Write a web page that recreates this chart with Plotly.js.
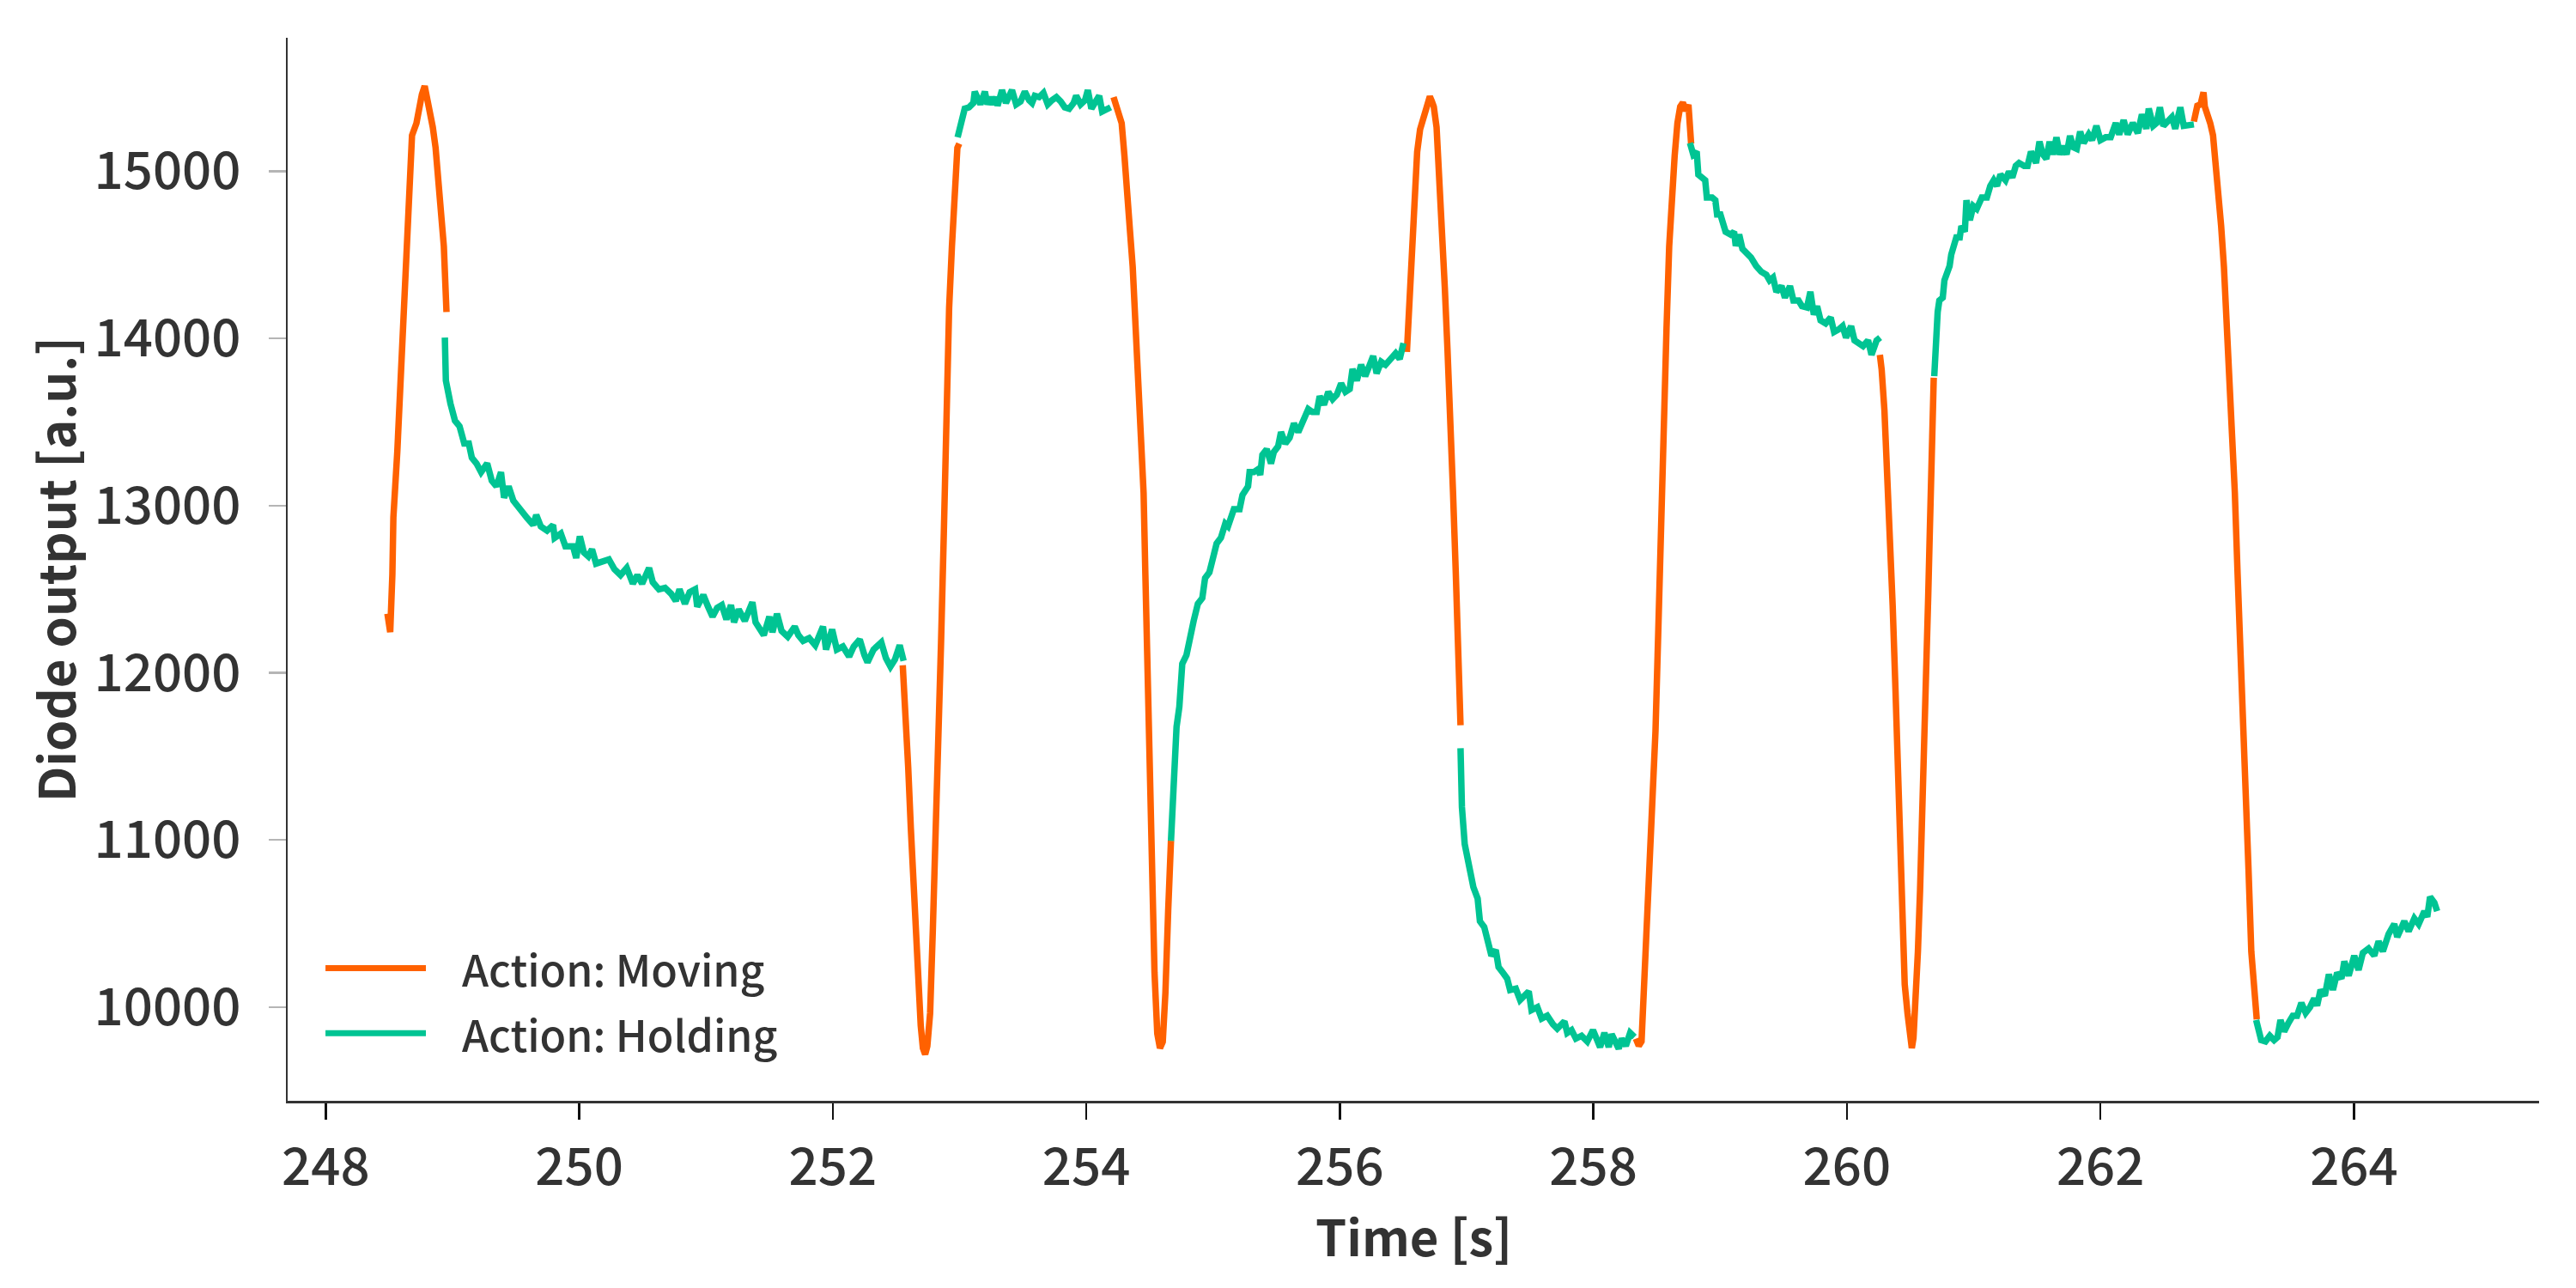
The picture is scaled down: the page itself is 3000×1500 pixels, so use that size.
<!DOCTYPE html>
<html>
<head>
<meta charset="utf-8">
<script src="https://cdn.plot.ly/plotly-3.0.1.min.js"></script>
<style>
  html, body { margin: 0; padding: 0; background: #ffffff; }
  #chart { width: 3000px; height: 1500px; }
</style>
</head>
<body>
<div id="chart"></div>
<script>
// ---- Data (time in s, diode output in a.u.) ----
const seriesNames = ["Action: Moving", "Action: Holding"];
const xTicks = [248, 250, 252, 254, 256, 258, 260, 262, 264];
const yTicks = [10000, 11000, 12000, 13000, 14000, 15000];
const xTitle = "Time [s]";
const yTitle = "Diode output [a.u.]";

// Moving segments
const move1T = [248.487, 248.509, 248.526, 248.534, 248.565, 248.608, 248.651, 248.681, 248.716, 248.737, 248.759, 248.781, 248.802, 248.845, 248.867, 248.889, 248.91, 248.932, 248.953];
const move1V = [12353, 12243, 12587, 12930, 13323, 14060, 14845, 15214, 15287, 15386, 15459, 15509, 15435, 15263, 15140, 14919, 14723, 14551, 14158];

const move2T = [252.552, 252.573, 252.595, 252.616, 252.638, 252.66, 252.681, 252.694, 252.711, 252.729, 252.746, 252.768, 252.789, 252.81, 252.832, 252.854, 252.876, 252.897, 252.918, 252.94, 252.962, 252.983, 252.998];
const move2V = [12045, 11806, 11437, 11069, 10700, 10332, 10086, 9890, 9755, 9718, 9767, 9964, 10455, 10946, 11560, 12174, 12832, 13569, 14183, 14551, 14919, 15140, 15165];

const move3T = [254.215, 254.236, 254.279, 254.301, 254.322, 254.344, 254.366, 254.387, 254.409, 254.43, 254.452, 254.466, 254.477, 254.495, 254.517, 254.538, 254.56, 254.581, 254.603, 254.624, 254.646, 254.668];
const move3V = [15443, 15386, 15287, 15091, 14919, 14649, 14428, 14109, 13814, 13446, 13077, 12587, 12174, 11437, 10700, 10209, 9841, 9755, 9792, 10086, 10578, 10995];

const move4T = [256.529, 256.547, 256.567, 256.59, 256.61, 256.633, 256.655, 256.68, 256.70, 256.71, 256.725, 256.741, 256.763, 256.784, 256.806, 256.828, 256.849, 256.871, 256.893, 256.915, 256.936, 256.952];
const move4V = [13919, 14158, 14502, 14821, 15116, 15250, 15312, 15390, 15435, 15447, 15420, 15386, 15263, 14993, 14673, 14305, 13937, 13569, 13077, 12587, 12174, 11686];

const move5T = [258.335, 258.358, 258.38, 258.392, 258.403, 258.426, 258.449, 258.47, 258.49, 258.512, 258.534, 258.555, 258.577, 258.598, 258.62, 258.641, 258.663, 258.685, 258.706, 258.728, 258.75, 258.762, 258.771];
const move5V = [9812, 9769, 9795, 10000, 10171, 10500, 10850, 11200, 11650, 12250, 13000, 13569, 14060, 14551, 14919, 15091, 15287, 15386, 15410, 15361, 15397, 15287, 15165];

const move6T = [260.26, 260.274, 260.296, 260.318, 260.339, 260.361, 260.383, 260.404, 260.417, 260.434, 260.456, 260.478, 260.499, 260.512, 260.525, 260.543, 260.56, 260.577, 260.599, 260.62, 260.641, 260.654, 260.671, 260.685];
const move6V = [13902, 13814, 13569, 13200, 12900, 12400, 11900, 11300, 10900, 10455, 10136, 9964, 9816, 9755, 9816, 10013, 10332, 10700, 11437, 11950, 12450, 12850, 13323, 13765];

const move7T = [262.737, 262.764, 262.79, 262.804, 262.813, 262.823, 262.845, 262.866, 262.888, 262.91, 262.93, 262.952, 262.974, 262.996, 263.017, 263.039, 263.06, 263.082, 263.104, 263.125, 263.147, 263.168, 263.19, 263.212, 263.233];
const move7V = [15297, 15391, 15400, 15459, 15472, 15386, 15340, 15287, 15214, 15042, 14845, 14673, 14428, 14109, 13814, 13446, 13077, 12587, 12174, 11806, 11314, 10823, 10332, 10062, 9927];

// Holding segments
const hold1T = [248.94, 248.948, 248.984, 249.02, 249.056, 249.093, 249.129, 249.153, 249.19, 249.226, 249.274, 249.31, 249.347, 249.383, 249.407, 249.443, 249.48, 249.528, 249.588, 249.637, 249.661, 249.697, 249.746, 249.794, 249.806, 249.855, 249.891, 249.951, 249.976, 250.005, 250.036, 250.072, 250.101, 250.133, 250.193, 250.234, 250.278, 250.326, 250.375, 250.423, 250.459, 250.496, 250.551, 250.58, 250.629, 250.677, 250.725, 250.762, 250.791, 250.834, 250.871, 250.914, 250.931, 250.979, 251.016, 251.052, 251.088, 251.125, 251.161, 251.197, 251.221, 251.258, 251.306, 251.366, 251.391, 251.427, 251.456, 251.5, 251.524, 251.56, 251.596, 251.645, 251.7, 251.729, 251.766, 251.814, 251.862, 251.923, 251.947, 251.995, 252.032, 252.08, 252.129, 252.165, 252.213, 252.25, 252.274, 252.322, 252.383, 252.419, 252.455, 252.491, 252.528, 252.559];
const hold1V = [14005, 13748, 13611, 13508, 13474, 13372, 13372, 13286, 13252, 13200, 13252, 13149, 13115, 13200, 13047, 13115, 13030, 12978, 12927, 12884, 12944, 12875, 12850, 12884, 12807, 12833, 12756, 12756, 12687, 12816, 12721, 12696, 12738, 12653, 12670, 12678, 12619, 12584, 12627, 12533, 12584, 12533, 12627, 12542, 12499, 12508, 12473, 12430, 12499, 12413, 12482, 12499, 12396, 12465, 12396, 12336, 12388, 12405, 12319, 12405, 12302, 12379, 12311, 12422, 12302, 12259, 12225, 12336, 12242, 12353, 12251, 12216, 12276, 12225, 12191, 12208, 12165, 12276, 12139, 12259, 12139, 12157, 12097, 12157, 12199, 12105, 12063, 12139, 12182, 12088, 12037, 12080, 12165, 12071];

const hold2T = [252.985, 253.007, 253.041, 253.075, 253.109, 253.12, 253.143, 253.165, 253.2, 253.22, 253.244, 253.265, 253.29, 253.3, 253.335, 253.366, 253.414, 253.447, 253.481, 253.515, 253.549, 253.572, 253.594, 253.628, 253.662, 253.696, 253.73, 253.764, 253.798, 253.83, 253.865, 253.9, 253.92, 253.955, 253.99, 254.012, 254.04, 254.068, 254.102, 254.125, 254.158, 254.192];
const hold2V = [15203, 15288, 15374, 15382, 15408, 15476, 15425, 15400, 15476, 15400, 15443, 15400, 15443, 15391, 15485, 15408, 15485, 15400, 15417, 15476, 15425, 15408, 15451, 15443, 15468, 15400, 15425, 15443, 15417, 15382, 15374, 15408, 15451, 15400, 15425, 15485, 15374, 15408, 15451, 15357, 15365, 15382];

const hold3T = [254.668, 254.69, 254.712, 254.734, 254.757, 254.79, 254.825, 254.847, 254.88, 254.915, 254.937, 254.971, 254.994, 255.028, 255.062, 255.096, 255.118, 255.164, 255.209, 255.232, 255.276, 255.288, 255.321, 255.355, 255.372, 255.389, 255.423, 255.457, 255.479, 255.513, 255.536, 255.57, 255.604, 255.638, 255.672, 255.717, 255.751, 255.784, 255.818, 255.841, 255.875, 255.909, 255.943, 255.976, 256.01, 256.044, 256.078, 256.1, 256.134, 256.168, 256.2, 256.236, 256.263, 256.29, 256.326, 256.36, 256.405, 256.44, 256.472, 256.502];
const hold3V = [10995, 11404, 11677, 11797, 12054, 12105, 12208, 12311, 12413, 12447, 12567, 12601, 12670, 12773, 12807, 12892, 12876, 12978, 12978, 13063, 13115, 13200, 13200, 13217, 13183, 13303, 13337, 13252, 13320, 13354, 13440, 13371, 13406, 13491, 13440, 13526, 13577, 13560, 13560, 13654, 13603, 13680, 13637, 13663, 13731, 13680, 13697, 13817, 13748, 13842, 13774, 13842, 13894, 13791, 13860, 13842, 13877, 13911, 13877, 13971];

const hold4T = [256.952, 256.963, 256.985, 257.019, 257.053, 257.087, 257.105, 257.139, 257.173, 257.196, 257.23, 257.252, 257.286, 257.32, 257.343, 257.388, 257.422, 257.467, 257.49, 257.512, 257.558, 257.592, 257.636, 257.681, 257.715, 257.772, 257.794, 257.828, 257.862, 257.907, 257.952, 257.997, 258.031, 258.053, 258.087, 258.121, 258.144, 258.166, 258.2, 258.223, 258.256, 258.29, 258.324];
const hold4V = [11549, 11198, 10976, 10822, 10719, 10650, 10514, 10479, 10394, 10308, 10342, 10240, 10206, 10171, 10103, 10111, 10043, 10069, 10094, 9983, 10000, 9932, 9949, 9898, 9872, 9915, 9846, 9863, 9812, 9829, 9795, 9863, 9786, 9761, 9846, 9761, 9838, 9795, 9752, 9812, 9769, 9846, 9821];

const hold5T = [258.762, 258.788, 258.815, 258.828, 258.855, 258.882, 258.895, 258.936, 258.962, 258.976, 259.002, 259.016, 259.043, 259.083, 259.11, 259.123, 259.15, 259.176, 259.203, 259.243, 259.284, 259.324, 259.364, 259.39, 259.417, 259.444, 259.484, 259.511, 259.551, 259.578, 259.618, 259.645, 259.685, 259.712, 259.739, 259.765, 259.792, 259.832, 259.872, 259.899, 259.94, 259.966, 259.993, 260.033, 260.06, 260.1, 260.127, 260.167, 260.194, 260.234, 260.262];
const hold5V = [15169, 15100, 15117, 14980, 14963, 14946, 14843, 14843, 14826, 14741, 14741, 14707, 14638, 14621, 14638, 14553, 14621, 14535, 14518, 14484, 14433, 14399, 14381, 14347, 14364, 14279, 14313, 14244, 14313, 14227, 14227, 14193, 14185, 14279, 14142, 14193, 14108, 14090, 14125, 14039, 14056, 14073, 14005, 14073, 13988, 13971, 13954, 13988, 13902, 13988, 14005];

const hold6T = [260.689, 260.702, 260.716, 260.729, 260.756, 260.769, 260.796, 260.81, 260.823, 260.85, 260.863, 260.89, 260.903, 260.93, 260.943, 260.97, 260.997, 261.024, 261.064, 261.104, 261.131, 261.158, 261.184, 261.211, 261.251, 261.278, 261.305, 261.332, 261.358, 261.398, 261.425, 261.452, 261.492, 261.519, 261.546, 261.573, 261.599, 261.626, 261.653, 261.68, 261.706, 261.733, 261.76, 261.787, 261.813, 261.84, 261.867, 261.907, 261.934, 261.968, 262.0, 262.041, 262.081, 262.121, 262.148, 262.183, 262.215, 262.255, 262.295, 262.327, 262.362, 262.381, 262.416, 262.443, 262.469, 262.496, 262.536, 262.563, 262.59, 262.63, 262.657, 262.697, 262.737];
const hold6V = [13774, 14005, 14159, 14227, 14244, 14347, 14399, 14433, 14501, 14570, 14604, 14604, 14672, 14638, 14826, 14707, 14792, 14775, 14843, 14843, 14912, 14946, 14912, 14980, 14946, 14997, 14963, 15032, 15049, 15032, 15032, 15117, 15049, 15177, 15100, 15074, 15177, 15100, 15203, 15100, 15151, 15100, 15211, 15143, 15134, 15237, 15169, 15220, 15186, 15271, 15186, 15203, 15203, 15288, 15220, 15305, 15220, 15288, 15228, 15340, 15254, 15374, 15271, 15288, 15382, 15271, 15305, 15323, 15254, 15382, 15271, 15280, 15280];

const hold7T = [263.228, 263.246, 263.268, 263.302, 263.336, 263.37, 263.397, 263.42, 263.449, 263.483, 263.517, 263.551, 263.585, 263.619, 263.653, 263.686, 263.709, 263.736, 263.77, 263.802, 263.834, 263.867, 263.901, 263.924, 263.958, 264.002, 264.036, 264.07, 264.115, 264.16, 264.194, 264.228, 264.273, 264.318, 264.341, 264.397, 264.431, 264.476, 264.51, 264.555, 264.578, 264.6, 264.634, 264.656];
const hold7V = [9923, 9846, 9803, 9795, 9829, 9803, 9821, 9923, 9855, 9906, 9949, 9949, 10026, 9966, 10000, 10052, 10009, 10103, 10069, 10197, 10103, 10206, 10171, 10274, 10188, 10308, 10223, 10325, 10351, 10308, 10394, 10334, 10437, 10497, 10420, 10514, 10454, 10531, 10497, 10574, 10540, 10659, 10625, 10574];

// ---- Build traces (segments separated by gaps) ----
function joinSegments(segs) {
  const x = [], y = [];
  segs.forEach((s, i) => {
    if (i > 0) { x.push(null); y.push(null); }
    for (let k = 0; k < s[0].length; k++) { x.push(s[0][k]); y.push(s[1][k]); }
  });
  return {x, y};
}

const moving = joinSegments([[move1T, move1V], [move2T, move2V], [move3T, move3V], [move4T, move4V], [move5T, move5V], [move6T, move6V], [move7T, move7V]]);
const holding = joinSegments([[hold1T, hold1V], [hold2T, hold2V], [hold3T, hold3V], [hold4T, hold4V], [hold5T, hold5V], [hold6T, hold6V], [hold7T, hold7V]]);

const COL_MOVE = "#ff6100";
const COL_HOLD = "#00c493";
const FONT = '"Noto Sans CJK SC", "Noto Sans CJK JP", "Source Sans Pro", "Noto Sans", sans-serif';
const TXT = "#333333";

const traces = [
  {x: moving.x, y: moving.y, name: seriesNames[0], type: "scatter", mode: "lines",
   connectgaps: false, line: {color: COL_MOVE, width: 7.5}, showlegend: false},
  {x: holding.x, y: holding.y, name: seriesNames[1], type: "scatter", mode: "lines",
   connectgaps: false, line: {color: COL_HOLD, width: 7.5}, showlegend: false}
];

const legY = [0.1248, 0.0637];
const legColors = [COL_MOVE, COL_HOLD];

const legendAnnots = legY.map((yy, i) => ({
  xref: "paper", yref: "paper", x: 0.0766, y: yy,
  xanchor: "left", yanchor: "middle", showarrow: false,
  text: seriesNames[i],
  font: {family: FONT, size: 50, color: TXT, weight: 500}
}));

const xTitleAnnot = {
  xref: "paper", yref: "paper", x: 0.5, y: -0.126,
  xanchor: "center", yanchor: "middle", showarrow: false,
  text: xTitle,
  font: {family: FONT, size: 58, color: TXT, weight: 700}
};

const layout = {
  width: 3000, height: 1500,
  margin: {l: 335, r: 43, t: 44, b: 218, pad: 0},
  paper_bgcolor: "#ffffff", plot_bgcolor: "#ffffff",
  font: {family: FONT, color: TXT, size: 60},
  showlegend: false,
  xaxis: {
    range: [247.70, 265.46], tickvals: xTicks, ticktext: xTicks.map(String),
    showgrid: false, zeroline: false, showline: true, linecolor: "#333333", linewidth: 2.5, mirror: false,
    ticks: "outside", ticklen: 19, tickwidth: 2.5, tickcolor: "#111111",
    ticklabelstandoff: 4,
    tickfont: {family: FONT, size: 60, color: TXT, weight: 500}
  },
  yaxis: {
    range: [9440, 15798], tickvals: yTicks, ticktext: yTicks.map(String),
    showgrid: false, zeroline: false, showline: true, linecolor: "#333333", linewidth: 2.5, mirror: false,
    ticks: "outside", ticklen: 20, tickwidth: 2.5, tickcolor: "#b5b5b5",
    ticklabelstandoff: 20,
    tickfont: {family: FONT, size: 60, color: TXT, weight: 500},
    title: {text: yTitle, font: {family: FONT, size: 58, color: TXT, weight: 700}, standoff: 2}
  },
  shapes: legY.map((yy, i) => ({
    type: "line", xref: "paper", yref: "paper",
    x0: 0.0168, x1: 0.0614, y0: yy, y1: yy,
    line: {color: legColors[i], width: 7}
  })),
  annotations: legendAnnots.concat([xTitleAnnot])
};

Plotly.newPlot("chart", traces, layout, {staticPlot: true, displayModeBar: false});
</script>
</body>
</html>
